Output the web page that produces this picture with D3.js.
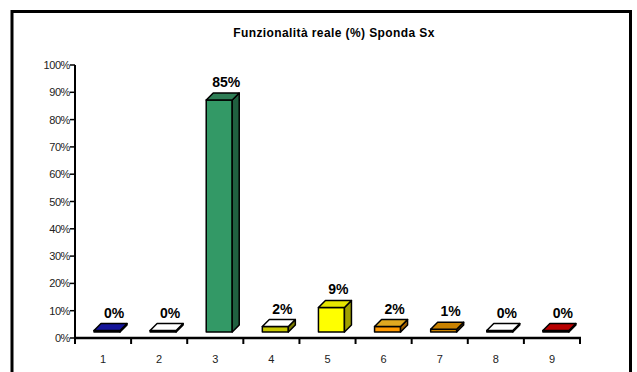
<!DOCTYPE html>
<html>
<head>
<meta charset="utf-8">
<script src="https://cdn.jsdelivr.net/npm/d3@7"></script>
<style>
  body { margin: 0; background: #fff; }
  svg { display: block; font-family: Arial, "Liberation Sans", sans-serif; }
</style>
</head>
<body>
<svg width="637" height="372"></svg>
<script>
let title = "Funzionalità reale (%) Sponda Sx";
let categories = ["1", "2", "3", "4", "5", "6", "7", "8", "9"];
let values = [0, 0, 0.85, 0.02, 0.09, 0.02, 0.01, 0, 0];
let valueLabels = ["0%", "0%", "85%", "2%", "9%", "2%", "1%", "0%", "0%"];
let yTicks = [0, 0.1, 0.2, 0.3, 0.4, 0.5, 0.6, 0.7, 0.8, 0.9, 1];

// colours: top face / front face for each bar
let topColors = ["#14149a", "#ffffff", "#2e7d55", "#ffffff", "#e6e600", "#e0a820", "#c98200", "#ffffff", "#b80000"];
let frontColors = ["#14149a", "#2a6ad0", "#339966", "#c8c800", "#ffff00", "#ff9900", "#c98200", "#ff6a1a", "#b80000"];

let svg = d3.select("svg");

// outer frame
svg.append("rect")
  .attr("x", 12).attr("y", 11.5)
  .attr("width", 618.5).attr("height", 400)
  .attr("fill", "none").attr("stroke", "#000").attr("stroke-width", 3);

svg.append("text")
  .attr("x", 334).attr("y", 37)
  .attr("text-anchor", "middle")
  .attr("font-size", 12).attr("font-weight", "bold")
  .attr("letter-spacing", 0.4)
  .text(title);

let x = d3.scaleBand().domain(categories).range([75, 580]);
let y = d3.scaleLinear().domain([0, 1]).range([338, 65]);

let dx = 7, dy = 7, lift = 6, frontW = 26, off = 19;

// y axis
let yAxis = svg.append("g");
yAxis.append("line")
  .attr("x1", 75).attr("x2", 75).attr("y1", y(1)).attr("y2", y(0))
  .attr("stroke", "#000").attr("stroke-width", 2);
yAxis.selectAll(".yt").data(yTicks).enter().append("line")
  .attr("x1", 70).attr("x2", 75)
  .attr("y1", d => y(d)).attr("y2", d => y(d))
  .attr("stroke", "#000").attr("stroke-width", 1.5);
yAxis.selectAll(".yl").data(yTicks).enter().append("text")
  .attr("x", 70).attr("y", d => y(d) + 4)
  .attr("text-anchor", "end")
  .attr("font-size", 11).attr("fill", "#222")
  .attr("letter-spacing", -0.4)
  .text(d => Math.round(d * 100) + "%");

// x axis
let xAxis = svg.append("g");
xAxis.append("line")
  .attr("x1", 74).attr("x2", 581).attr("y1", y(0)).attr("y2", y(0))
  .attr("stroke", "#000").attr("stroke-width", 2.5);
let bounds = categories.map(c => x(c)).concat([x.range()[1]]);
xAxis.selectAll(".xt").data(bounds).enter().append("line")
  .attr("x1", d => d).attr("x2", d => d)
  .attr("y1", y(0)).attr("y2", y(0) + 6)
  .attr("stroke", "#000").attr("stroke-width", 2);
xAxis.selectAll(".xl").data(categories).enter().append("text")
  .attr("x", d => x(d) + x.bandwidth() / 2)
  .attr("y", 363)
  .attr("text-anchor", "middle")
  .attr("font-size", 11).attr("fill", "#222")
  .text(d => d);

// 3D bars
let bars = svg.selectAll(".bar")
  .data(values.map((v, i) => ({ v: v, i: i, c: categories[i] })))
  .enter().append("g").attr("class", "bar");

function geom(d) {
  let x0 = x(d.c) + off, x1 = x0 + frontW;
  let yb = y(0) - lift;
  let h = Math.max(y(0) - y(d.v), d.v > 0 ? 0 : 1.5);
  let yt = yb - h;
  return { x0, x1, yb, yt };
}

bars.append("path")
  .attr("d", d => {
    let g = geom(d);
    return `M${g.x0},${g.yb}L${g.x0},${g.yt}L${g.x1},${g.yt}L${g.x1},${g.yb}Z`;
  })
  .attr("fill", d => frontColors[d.i])
  .attr("stroke", "#000").attr("stroke-width", 1.5).attr("stroke-linejoin", "round");

bars.append("path")
  .attr("d", d => {
    let g = geom(d);
    return `M${g.x1},${g.yb}L${g.x1},${g.yt}L${g.x1 + dx},${g.yt - dy}L${g.x1 + dx},${g.yb - dy}Z`;
  })
  .attr("fill", d => d3.color(frontColors[d.i]).darker(1.3))
  .attr("stroke", "#000").attr("stroke-width", 1.5).attr("stroke-linejoin", "round");

bars.append("path")
  .attr("d", d => {
    let g = geom(d);
    return `M${g.x0},${g.yt}L${g.x0 + dx},${g.yt - dy}L${g.x1 + dx},${g.yt - dy}L${g.x1},${g.yt}Z`;
  })
  .attr("fill", d => topColors[d.i])
  .attr("stroke", "#000").attr("stroke-width", 1.5).attr("stroke-linejoin", "round");

bars.append("text")
  .attr("x", d => geom(d).x0 + frontW / 2 + dx)
  .attr("y", d => geom(d).yt - dy - 6)
  .attr("text-anchor", "middle")
  .attr("font-size", 14).attr("font-weight", "bold")
  .text(d => valueLabels[d.i]);
</script>
</body>
</html>
